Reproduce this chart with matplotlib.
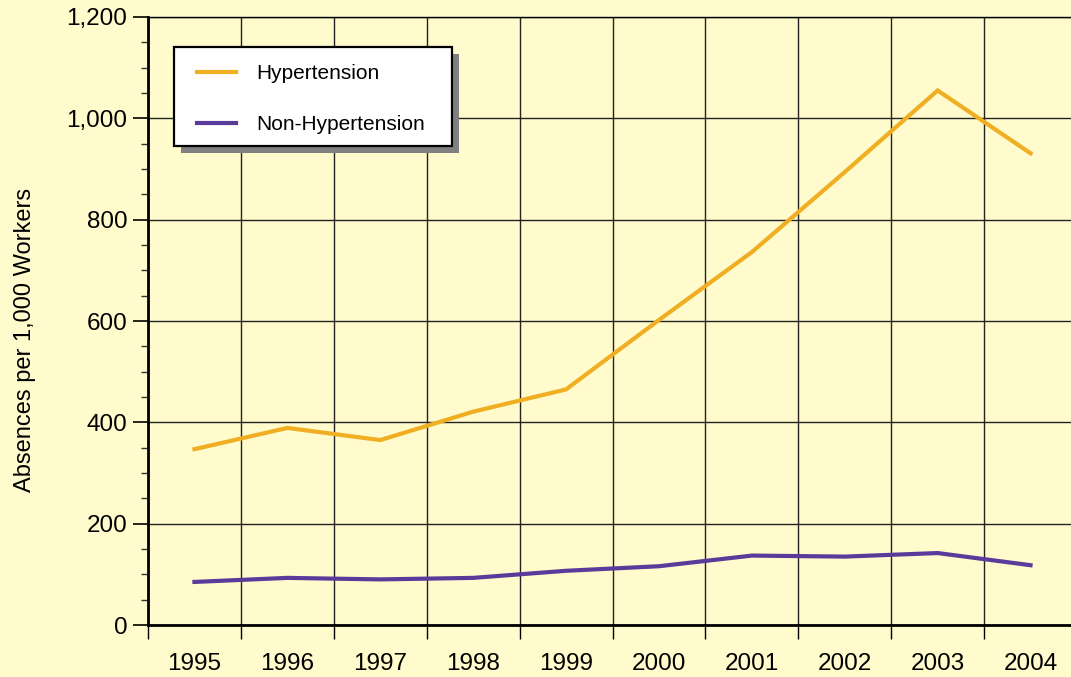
import matplotlib.pyplot as plt
from matplotlib.lines import Line2D
from matplotlib.patches import Rectangle
from matplotlib.ticker import MultipleLocator, FuncFormatter

years = ['1995', '1996', '1997', '1998', '1999', '2000', '2001', '2002', '2003', '2004']
hypertension = [347, 389, 365, 421, 465, 602, 736, 894, 1055, 931]
non_hypertension = [85, 93, 90, 93, 107, 116, 137, 135, 142, 118]

bg = '#FFFBCC'
orange = '#F0AE22'
purple = '#5A3A9B'

plt.rcParams['font.family'] = ['Liberation Sans', 'DejaVu Sans']

W, H = 1071, 677
fig = plt.figure(figsize=(W / 100, H / 100), dpi=100, facecolor=bg)
# axes in pixel coords: left 148, bottom 625, top 17, 10 bins of ~93 px
ax = fig.add_axes([148 / W, 1 - 625 / H, 929 / W, 608 / H])
ax.set_facecolor(bg)

x = list(range(len(years)))
ax.plot(x, hypertension, color=orange, lw=3.0, solid_joinstyle='miter', zorder=3)
ax.plot(x, non_hypertension, color=purple, lw=3.0, solid_joinstyle='miter', zorder=3)

ax.set_xlim(-0.5, len(years) - 0.5)
ax.set_ylim(0, 1200)

# year labels at bin centres, ticks at bin edges
ax.set_xticks(x)
ax.set_xticklabels(years)
ax.set_xticks([i - 0.5 for i in range(len(years) + 1)], minor=True)
ax.tick_params(axis='x', which='major', length=0, pad=20, labelsize=17.5)
ax.tick_params(axis='x', which='minor', length=10, width=1, color='black', direction='out')

ax.yaxis.set_major_locator(MultipleLocator(200))
ax.yaxis.set_minor_locator(MultipleLocator(50))
ax.yaxis.set_major_formatter(FuncFormatter(lambda v, p: f'{int(v):,}'))
ax.tick_params(axis='y', which='major', length=11, width=1.2, pad=4, labelsize=17.5)
ax.tick_params(axis='y', which='minor', length=5, width=1, color='#333333')

ax.grid(True, axis='x', which='minor', color='#222222', lw=1)
ax.grid(True, axis='y', which='major', color='#222222', lw=1)
ax.set_axisbelow(True)

ax.spines['right'].set_visible(False)
ax.spines['top'].set_linewidth(1)
ax.spines['left'].set_linewidth(2)
ax.spines['bottom'].set_linewidth(2)

fig.text(25 / W, 1 - 340 / H, 'Absences per 1,000 Workers', rotation=90,
         ha='center', va='center', fontsize=17)

# legend box with drop shadow, drawn in figure pixels
def px_rect(x0, y0, x1, y1, **kw):
    return Rectangle((x0 / W, 1 - y1 / H), (x1 - x0) / W, (y1 - y0) / H,
                     transform=fig.transFigure, clip_on=False, **kw)

ax.add_patch(px_rect(181, 54, 459, 153, facecolor='#808080', edgecolor='none', zorder=4))
ax.add_patch(px_rect(174, 47, 452, 146, facecolor='white', edgecolor='black', lw=1.6, zorder=4.5))

handles = [Line2D([], [], color=orange, lw=3), Line2D([], [], color=purple, lw=3)]
leg = ax.legend(handles, ['Hypertension', 'Non-Hypertension'],
                loc='upper left', bbox_to_anchor=(197 / W, 1 - 64 / H),
                bbox_transform=fig.transFigure, fontsize=15,
                handlelength=1.875, handletextpad=0.95, labelspacing=1.53,
                borderpad=0, borderaxespad=0, frameon=False)
leg.set_zorder(5)

fig.savefig('out.png', dpi=100, facecolor=bg)
